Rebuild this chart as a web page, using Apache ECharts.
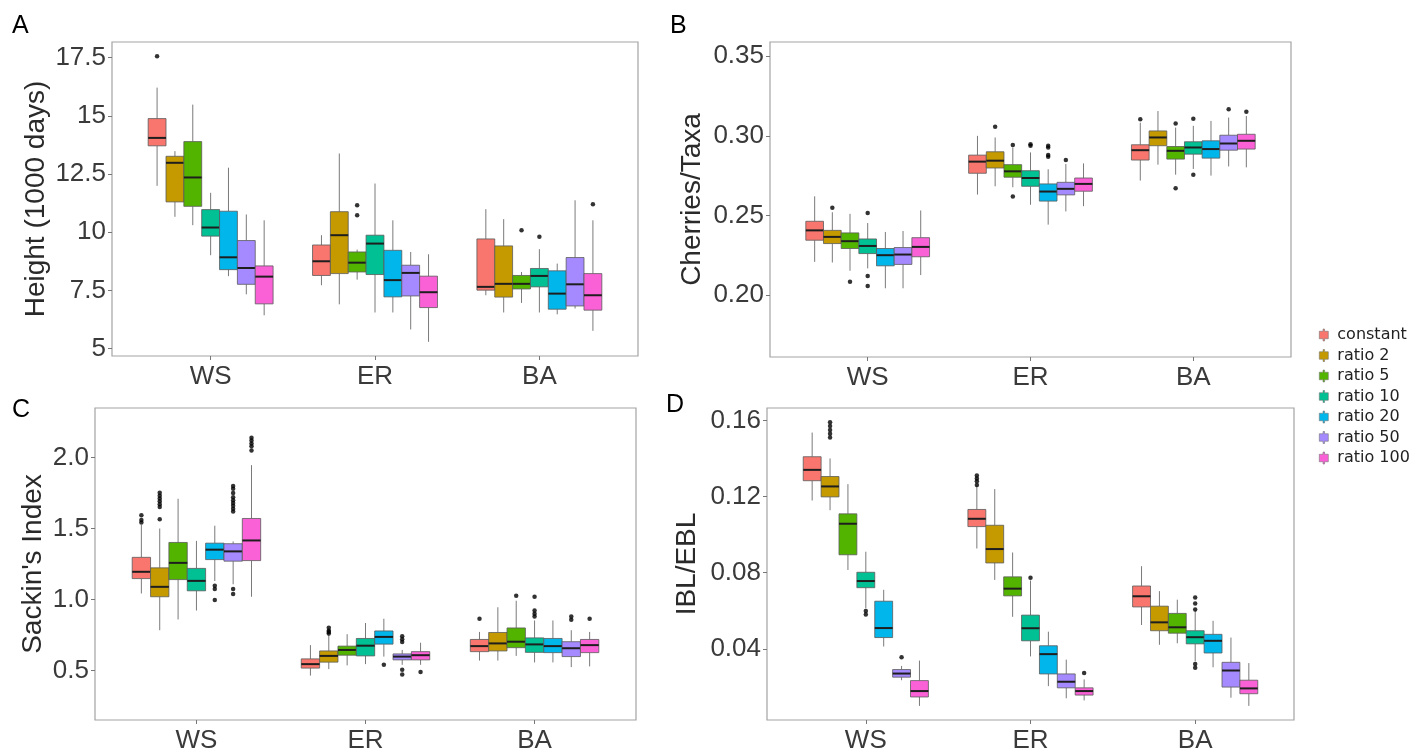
<!DOCTYPE html>
<html>
<head>
<meta charset="utf-8">
<script src="https://cdn.jsdelivr.net/npm/echarts@6/dist/echarts.min.js"></script>
<style>
html,body{margin:0;padding:0;background:#fff;}
#chart{width:1426px;height:754px;}
</style>
</head>
<body>
<div id="chart"></div>
<script>
// ---------- DATA ----------
const categories = ['WS', 'ER', 'BA'];
const seriesNames = ['constant', 'ratio 2', 'ratio 5', 'ratio 10', 'ratio 20', 'ratio 50', 'ratio 100'];
const seriesColors = ['#F8766D', '#C49A00', '#53B400', '#00C094', '#00B6EB', '#A58AFF', '#FB61D7'];

// each row: [lower whisker, Q1, median, Q3, upper whisker], one row per series
// Panel A: Height (1000 days)
const heightWS = [[11.99,13.71,14.05,14.88,16.21],[10.66,11.30,12.98,13.26,13.48],[10.30,11.11,12.35,13.89,15.48],[9.01,9.83,10.20,10.97,11.69],[8.11,8.39,8.92,10.90,12.77],[7.33,7.76,8.46,9.64,10.76],[6.43,6.92,8.09,8.55,10.51]];
const heightER = [[7.72,8.14,8.75,9.45,9.87],[6.90,8.22,9.87,10.88,13.38],[7.96,8.29,8.69,9.15,9.25],[6.55,8.18,9.51,9.87,12.09],[6.55,7.22,7.94,9.22,10.51],[5.82,7.26,8.25,8.58,9.15],[5.29,6.76,7.42,8.11,9.05]];
const heightBA = [[7.29,7.51,7.65,9.71,10.99],[6.55,7.21,7.78,9.41,10.56],[6.96,7.56,7.78,8.14,8.29],[6.55,7.65,8.12,8.44,9.27],[6.47,6.69,7.36,8.34,8.65],[6.72,6.83,7.76,8.91,11.37],[5.76,6.65,7.29,8.22,10.51]];
// outliers: [series index, category index, value]
const heightOutliers = [[0,0,17.56],[2,1,11.16],[2,1,10.73],[2,2,10.08],[3,2,9.80],[6,2,11.20]];
const heightTicks = [5, 7.5, 10, 12.5, 15, 17.5];

// Panel B: Cherries/Taxa
const cherriesWS = [[0.2208,0.2344,0.2406,0.2463,0.2620],[0.2204,0.2323,0.2365,0.2406,0.2520],[0.2152,0.2292,0.2338,0.2390,0.2510],[0.2167,0.2260,0.2308,0.2352,0.2452],[0.2042,0.2183,0.2250,0.2292,0.2396],[0.2042,0.2192,0.2254,0.2298,0.2402],[0.2125,0.2240,0.2302,0.2360,0.2531]];
const cherriesER = [[0.2631,0.2765,0.2838,0.2879,0.3000],[0.2683,0.2798,0.2844,0.2900,0.2990],[0.2677,0.2740,0.2777,0.2819,0.2927],[0.2567,0.2683,0.2735,0.2781,0.2896],[0.2442,0.2590,0.2650,0.2698,0.2790],[0.2525,0.2629,0.2667,0.2708,0.2823],[0.2558,0.2652,0.2698,0.2735,0.2827]];
const cherriesBA = [[0.2719,0.2848,0.2910,0.2944,0.3083],[0.2819,0.2938,0.2990,0.3031,0.3156],[0.2756,0.2854,0.2906,0.2933,0.3052],[0.2792,0.2885,0.2927,0.2963,0.3063],[0.2750,0.2860,0.2917,0.2969,0.3094],[0.2808,0.2910,0.2952,0.3004,0.3115],[0.2802,0.2917,0.2969,0.3010,0.3125]];
const cherriesOutliers = [[1,0,0.2548],[2,0,0.2083],[3,0,0.2515],[3,0,0.2119],[3,0,0.2056],[1,1,0.3058],[2,1,0.2942],[2,1,0.2619],[3,1,0.2948],[3,1,0.2938],[4,1,0.2938],[4,1,0.2927],[4,1,0.2879],[4,1,0.2869],[5,1,0.2848],[0,2,0.3104],[2,2,0.3077],[2,2,0.2671],[3,2,0.3108],[3,2,0.2756],[5,2,0.3167],[6,2,0.3152]];
const cherriesTicks = [0.20, 0.25, 0.30, 0.35];

// Panel C: Sackin's Index
const sackinWS = [[1.042,1.147,1.195,1.297,1.525],[0.783,1.019,1.089,1.223,1.500],[0.859,1.140,1.258,1.402,1.710],[0.922,1.061,1.131,1.219,1.413],[1.130,1.281,1.351,1.397,1.520],[1.107,1.270,1.339,1.393,1.409],[1.019,1.274,1.416,1.571,1.947]];
const sackinER = [[0.463,0.516,0.544,0.581,0.678],[0.509,0.558,0.602,0.637,0.750],[0.535,0.607,0.644,0.671,0.755],[0.544,0.602,0.674,0.725,0.834],[0.597,0.685,0.736,0.778,0.864],[0.539,0.574,0.597,0.616,0.644],[0.539,0.574,0.607,0.632,0.695]];
const sackinBA = [[0.569,0.632,0.671,0.718,0.771],[0.569,0.637,0.690,0.767,0.945],[0.602,0.660,0.702,0.799,0.991],[0.556,0.627,0.683,0.729,0.852],[0.556,0.625,0.671,0.725,0.852],[0.523,0.597,0.656,0.702,0.783],[0.528,0.625,0.678,0.718,0.771]];
const sackinOutliers = [[0,0,1.594],[0,0,1.560],[0,0,1.543],[1,0,1.566],[1,0,1.652],[1,0,1.672],[1,0,1.692],[1,0,1.712],[1,0,1.732],[1,0,1.752],[4,0,1.096],[4,0,1.073],[4,0,0.996],[5,0,1.80],[5,0,1.78],[5,0,1.75],[5,0,1.72],[5,0,1.70],[5,0,1.68],[5,0,1.66],[5,0,1.64],[5,0,1.62],[5,0,1.073],[5,0,1.038],[6,0,2.14],[6,0,2.12],[6,0,2.10],[6,0,2.08],[6,0,2.05],[1,1,0.80],[1,1,0.78],[1,1,0.77],[1,1,0.76],[4,1,0.539],[5,1,0.741],[5,1,0.72],[5,1,0.70],[5,1,0.505],[5,1,0.47],[6,1,0.488],[0,2,0.864],[2,2,1.026],[3,2,1.019],[3,2,0.922],[3,2,0.90],[3,2,0.88],[5,2,0.88],[5,2,0.857],[6,2,0.864]];
const sackinTicks = [0.5, 1.0, 1.5, 2.0];

// Panel D: IBL/EBL
const iblWS = [[0.1179,0.1283,0.1340,0.1409,0.1536],[0.1128,0.1198,0.1253,0.1305,0.1400],[0.0814,0.0894,0.1057,0.1109,0.1265],[0.0612,0.0721,0.0756,0.0802,0.0910],[0.0412,0.0459,0.0509,0.0650,0.0710],[0.0235,0.0251,0.0270,0.0291,0.0310],[0.0100,0.0147,0.0178,0.0233,0.0338]];
const iblER = [[0.0927,0.1042,0.1083,0.1132,0.1257],[0.0762,0.0851,0.0924,0.1049,0.1239],[0.0568,0.0678,0.0716,0.0778,0.0906],[0.0360,0.0442,0.0508,0.0577,0.0759],[0.0204,0.0268,0.0372,0.0416,0.0490],[0.0140,0.0195,0.0227,0.0268,0.0343],[0.0129,0.0157,0.0178,0.0195,0.0239]];
const iblBA = [[0.0525,0.0620,0.0676,0.0730,0.0834],[0.0421,0.0495,0.0539,0.0624,0.0703],[0.0429,0.0482,0.0513,0.0586,0.0658],[0.0334,0.0426,0.0461,0.0495,0.0603],[0.0303,0.0378,0.0442,0.0476,0.0547],[0.0143,0.0199,0.0286,0.0329,0.0459],[0.0100,0.0164,0.0192,0.0235,0.0325]];
const iblOutliers = [[1,0,0.159],[1,0,0.157],[1,0,0.155],[1,0,0.153],[1,0,0.151],[3,0,0.0598],[3,0,0.0580],[5,0,0.0355],[0,1,0.131],[0,1,0.1295],[0,1,0.128],[0,1,0.126],[3,1,0.0773],[6,1,0.0273],[3,2,0.0669],[3,2,0.0638],[3,2,0.0606],[3,2,0.0320],[3,2,0.0300]];
const iblTicks = [0.04, 0.08, 0.12, 0.16];

// ---------- LAYOUT / STYLE ----------
const FONT = 'Liberation Sans, Arial, sans-serif';
const GROUP_W = 0.76;
const BOX_W = GROUP_W / seriesNames.length;

const panels = [
  {letter:'A', title:'Height (1000 days)', stats:[heightWS, heightER, heightBA], out:heightOutliers, ticks:heightTicks, fmt:v=>String(v),
   min:4.68, max:18.17, grid:{left:112, top:42, width:526, height:314}, nameGap:62, letterPos:[12,14]},
  {letter:'B', title:'Cherries/Taxa', stats:[cherriesWS, cherriesER, cherriesBA], out:cherriesOutliers, ticks:cherriesTicks, fmt:v=>v.toFixed(2),
   min:0.161, max:0.359, grid:{left:770, top:42, width:521, height:315}, nameGap:64, letterPos:[670,14]},
  {letter:'C', title:"Sackin's Index", stats:[sackinWS, sackinER, sackinBA], out:sackinOutliers, ticks:sackinTicks, fmt:v=>v.toFixed(1),
   min:0.15, max:2.35, grid:{left:95, top:408, width:541, height:315}, nameGap:48, letterPos:[12,398]},
  {letter:'D', title:'IBL/EBL', stats:[iblWS, iblER, iblBA], out:iblOutliers, ticks:iblTicks, fmt:v=>v.toFixed(2),
   min:0.0026, max:0.1665, grid:{left:767, top:408, width:527, height:315}, nameGap:66, letterPos:[666,393]}
];

function renderBox(params, api) {
  const x = api.value(0);
  const lo = api.coord([x, api.value(1)]);
  const q1 = api.coord([x, api.value(2)]);
  const md = api.coord([x, api.value(3)]);
  const q3 = api.coord([x, api.value(4)]);
  const hi = api.coord([x, api.value(5)]);
  const half = api.size([BOX_W, 0])[0] / 2;
  const cx = lo[0];
  const color = api.visual('color');
  return {
    type: 'group',
    children: [
      {type:'line', shape:{x1:cx, y1:lo[1], x2:cx, y2:q1[1]}, style:{stroke:'#7a7a7a', lineWidth:1}},
      {type:'line', shape:{x1:cx, y1:hi[1], x2:cx, y2:q3[1]}, style:{stroke:'#7a7a7a', lineWidth:1}},
      {type:'rect', shape:{x:cx-half, y:q3[1], width:half*2, height:q1[1]-q3[1]}, style:{fill:color, stroke:'#5a5a5a', lineWidth:0.8}},
      {type:'line', shape:{x1:cx-half, y1:md[1], x2:cx+half, y2:md[1]}, style:{stroke:'#1e1e1e', lineWidth:2}}
    ]
  };
}

const grids = [], xAxes = [], yAxes = [], series = [], graphics = [];
panels.forEach((p, pi) => {
  grids.push(Object.assign({show:true, borderColor:'#a3a3a3', borderWidth:1.2, backgroundColor:'#fff'}, p.grid));
  xAxes.push({
    gridIndex: pi, type:'value', min:0.4, max:3.6,
    axisLine:{show:false}, splitLine:{show:false},
    axisTick:{show:true, customValues:[1,2,3], length:4, lineStyle:{color:'#777'}},
    axisLabel:{show:true, customValues:[1,2,3], formatter:v=>categories[Math.round(v)-1] || '', fontSize:26, color:'#3a3a3a', fontFamily:FONT, margin:8}
  });
  yAxes.push({
    gridIndex: pi, type:'value', min:p.min, max:p.max,
    name:p.title, nameLocation:'middle', nameGap:p.nameGap,
    nameTextStyle:{fontSize:28, color:'#2a2a2a', fontFamily:FONT},
    axisLine:{show:false}, splitLine:{show:false},
    axisTick:{show:true, customValues:p.ticks, length:4, lineStyle:{color:'#777'}},
    axisLabel:{show:true, customValues:p.ticks, formatter:p.fmt, fontSize:26, color:'#3a3a3a', fontFamily:FONT, margin:6}
  });
  seriesNames.forEach((name, si) => {
    const data = categories.map((c, ci) => [ci + 1 + (si - (seriesNames.length - 1) / 2) * BOX_W].concat(p.stats[ci][si]));
    series.push({
      type:'custom', name:name, xAxisIndex:pi, yAxisIndex:pi,
      itemStyle:{color:seriesColors[si]},
      encode:{x:0, y:[1,2,3,4,5]},
      renderItem:renderBox, data:data, silent:true
    });
  });
  series.push({
    type:'scatter', name:'outliers-' + p.letter, xAxisIndex:pi, yAxisIndex:pi,
    symbolSize:4.5, itemStyle:{color:'#000'}, silent:true,
    data:p.out.map(o => [o[1] + 1 + (o[0] - (seriesNames.length - 1) / 2) * BOX_W, o[2]])
  });
  graphics.push({type:'text', left:p.letterPos[0], top:p.letterPos[1], style:{text:p.letter, fontSize:25, fill:'#000', fontFamily:FONT}});
});

const chart = echarts.init(document.getElementById('chart'), null, {renderer:'canvas'});
chart.setOption({
  animation:false,
  backgroundColor:'#fff',
  grid:grids, xAxis:xAxes, yAxis:yAxes, series:series, graphic:graphics,
  legend:{
    orient:'vertical', left:1314, top:322,
    itemWidth:13, itemHeight:12, itemGap:4.5,
    data:seriesNames.map(n => ({name:n, icon:'path://M5,0L7,0L7,3L12,3L12,13L7,13L7,16L5,16L5,13L0,13L0,3L5,3Z'})),
    itemStyle:{borderColor:'#777', borderWidth:0.6},
    textStyle:{fontSize:16, color:'#222', fontFamily:'DejaVu Sans', padding:[0,0,0,2]}
  }
});
</script>
</body>
</html>
